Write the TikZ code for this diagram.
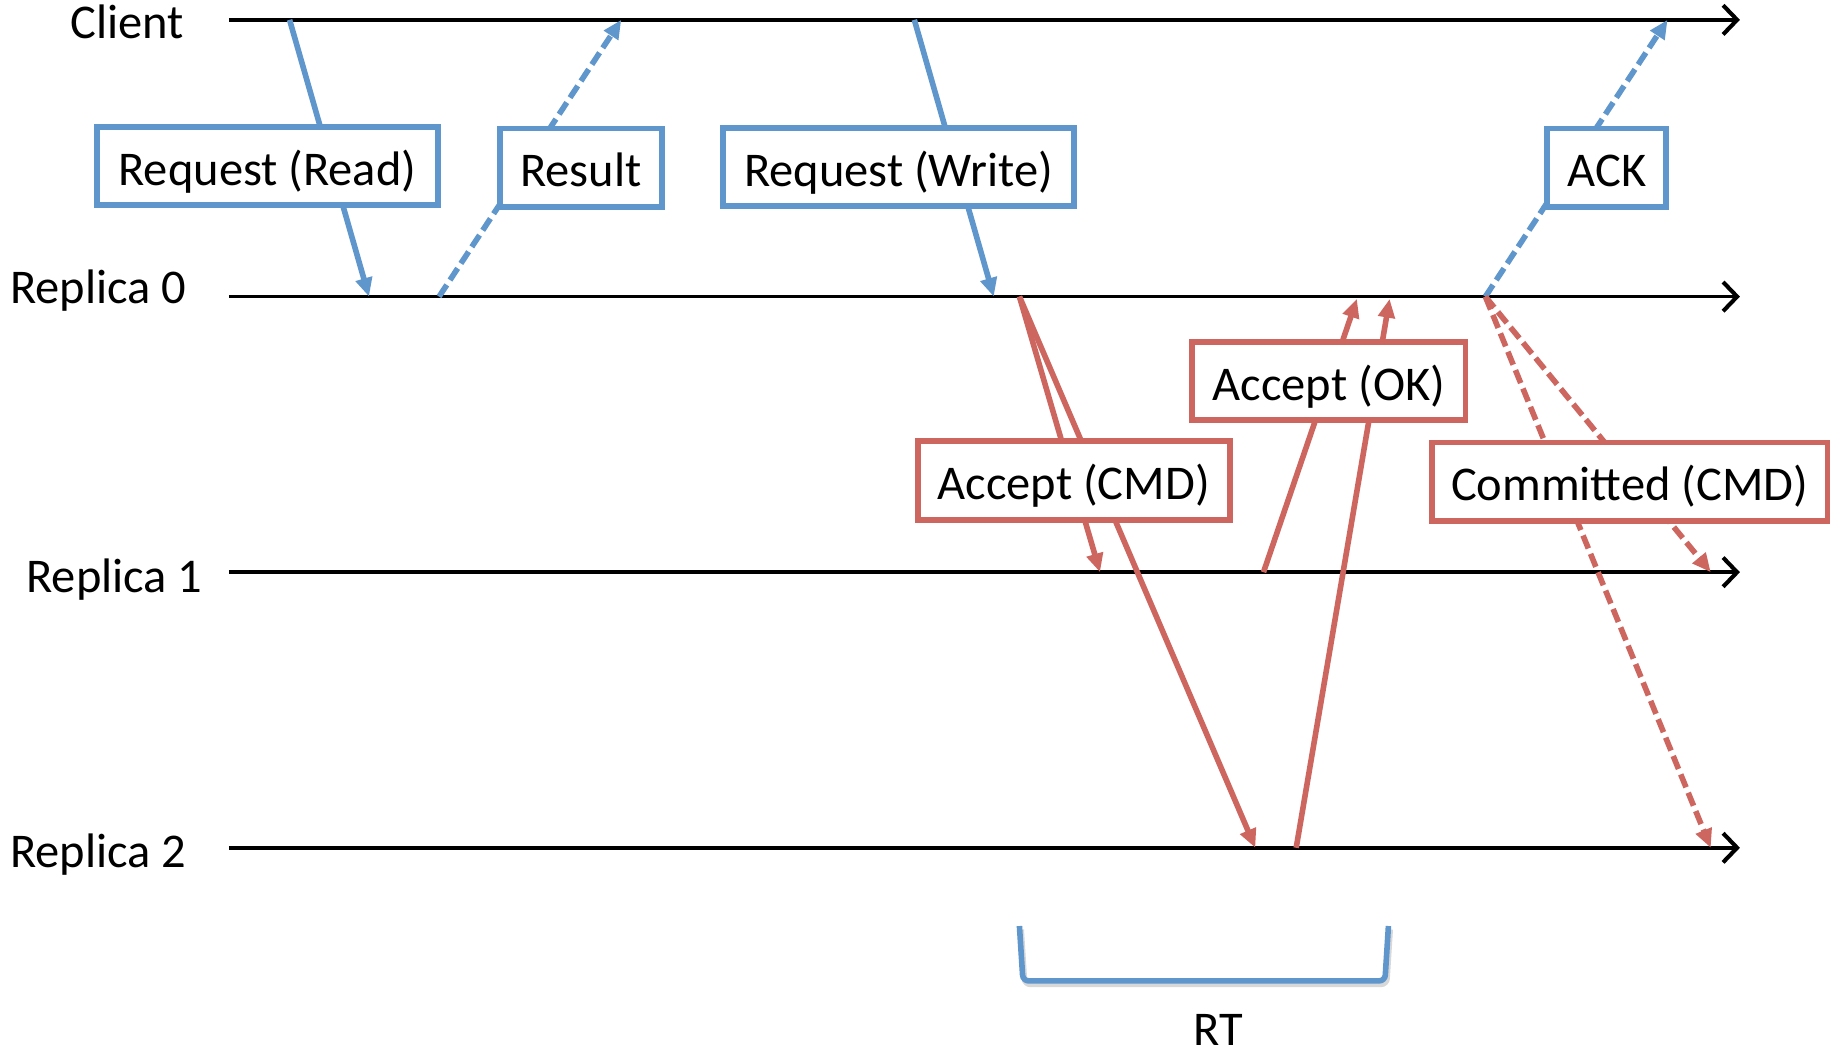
\documentclass[tikz,border=0pt]{standalone}
\usepackage{fontspec}
\setmainfont{Carlito}
\usetikzlibrary{arrows.meta}
\definecolor{msgblue}{RGB}{95,150,204}
\definecolor{msgred}{RGB}{206,102,96}
\begin{document}
\begin{tikzpicture}[x=1pt,y=-1pt,
  font=\fontsize{41.5}{48}\selectfont,
  timeline/.style={draw=black, line width=3.1pt,
    -{Straight Barb[length=12pt,width=25pt,line width=3.5pt]}},
  msg/.style={line width=4.8pt, -{Triangle[length=16pt,width=14pt]}},
  reply/.style={msg, dash pattern=on 12pt off 5pt},
  box/.style={draw, line width=5pt, fill=white, inner sep=0pt,
    minimum height=67pt, text height=33pt, text depth=0pt, align=center},
  lanelabel/.style={anchor=base, inner sep=0pt}]

\useasboundingbox[fill=white] (0,0) rectangle (1568,905);

% lanes
\node[lanelabel] (lc) at (109,33) {Client};
\node[lanelabel] (l0) at (84,260) {Replica 0};
\node[lanelabel] (l1) at (98,507) {Replica 1};
\node[lanelabel] (l2) at (84,743) {Replica 2};

\coordinate (cS) at (196,17);  \coordinate (cE) at (1490,17);
\coordinate (r0S) at (196,254); \coordinate (r0E) at (1490,254);
\coordinate (r1S) at (196,490); \coordinate (r1E) at (1490,490);
\coordinate (r2S) at (196,726); \coordinate (r2E) at (1490,726);

\draw[timeline] (cS) -- (cE);
\draw[timeline] (r0S) -- (r0E);
\draw[timeline] (r1S) -- (r1E);
\draw[timeline] (r2S) -- (r2E);

% message end points
\coordinate (rdA) at (248,17);   \coordinate (rdB) at (316,254);
\coordinate (rsA) at (376,254);  \coordinate (rsB) at (532,17);
\coordinate (wrA) at (783,17);   \coordinate (wrB) at (851,254);
\coordinate (ackA) at (1272,254); \coordinate (ackB) at (1428,17);
\coordinate (acA) at (873,254);
\coordinate (ac1) at (942,490);  \coordinate (ac2) at (1075,726);
\coordinate (ok1A) at (1082,490); \coordinate (ok1B) at (1162,256);
\coordinate (ok2A) at (1110,726); \coordinate (ok2B) at (1190,256);
\coordinate (cm1) at (1465,490);  \coordinate (cm2) at (1465,726);

% client traffic
\draw[msg, msgblue] (rdA) -- (rdB);
\draw[reply, msgblue] (rsA) -- (rsB);
\draw[msg, msgblue] (wrA) -- (wrB);
\draw[reply, msgblue] (ackA) -- (ackB);

% replication traffic
\draw[msg, msgred] (acA) -- (ac1);
\draw[msg, msgred] (acA) -- (ac2);
\draw[msg, msgred] (ok1A) -- (ok1B);
\draw[msg, msgred] (ok2A) -- (ok2B);
\draw[reply, msgred] (ackA) -- (cm1);
\draw[reply, msgred] (ackA) -- (cm2);

% message labels
\node[box, draw=msgblue, minimum width=292pt] (bRead) at (229,142) {Request (Read)};
\node[box, draw=msgblue, minimum width=139pt] (bRes) at (497.5,143.5) {Result};
\node[box, draw=msgblue, minimum width=301pt] (bWrite) at (769.5,143) {Request (Write)};
\node[box, draw=msgblue, minimum width=102pt] (bAck) at (1376,143.5) {ACK};
\node[box, draw=msgred, minimum width=234pt] (bOK) at (1138,326.5) {Accept (OK)};
\node[box, draw=msgred, minimum width=267pt] (bCmd) at (919.5,411.5) {Accept (CMD)};
\node[box, draw=msgred, minimum width=339pt] (bCom) at (1395.5,412.5) {Committed (CMD)};

% round-trip bracket
\coordinate (rtA) at (873,793); \coordinate (rtB) at (876,840);
\coordinate (rtC) at (1186,840); \coordinate (rtD) at (1189,793);
\draw[black!25, opacity=0.6, line width=4.8pt, rounded corners=5pt]
  ([shift={(1.5,3)}]rtA) -- ([shift={(1.5,3)}]rtB) -- ([shift={(1.5,3)}]rtC) -- ([shift={(1.5,3)}]rtD);
\draw[msgblue, line width=4.8pt, rounded corners=5pt] (rtA) -- (rtB) -- (rtC) -- (rtD);
\node[lanelabel] (rt) at (1043,895) {RT};
\end{tikzpicture}
\end{document}
